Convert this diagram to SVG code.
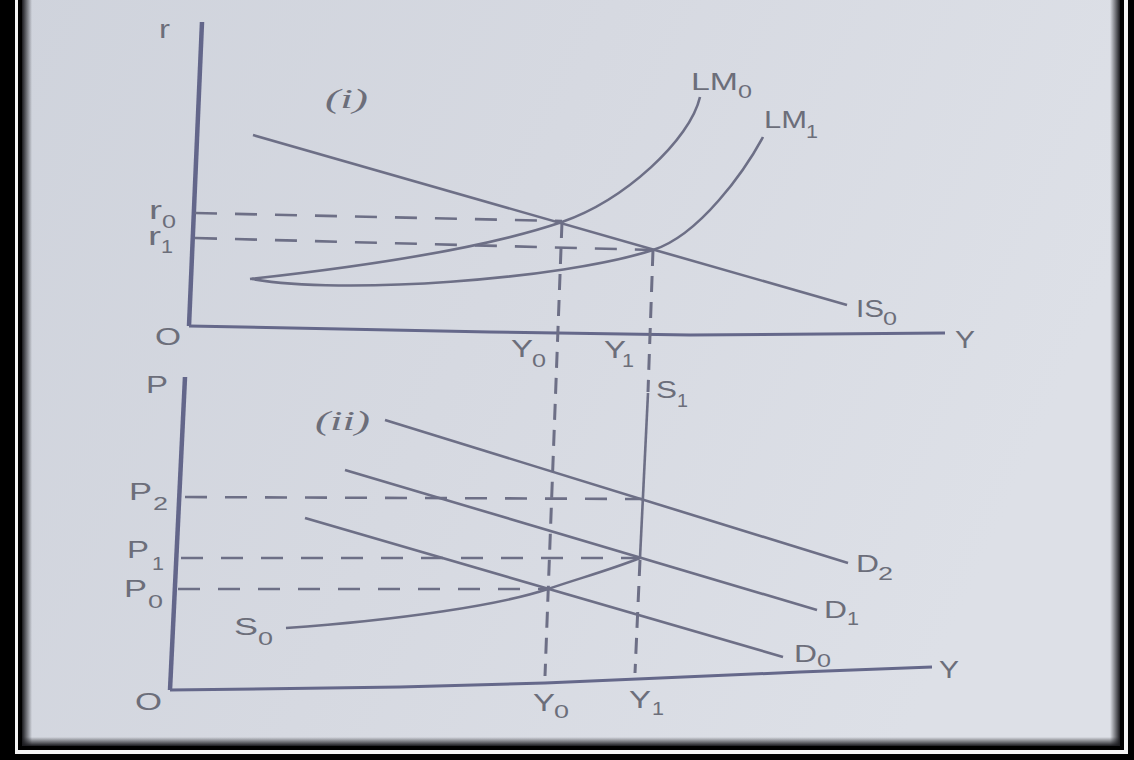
<svg xmlns="http://www.w3.org/2000/svg" width="1134" height="760" viewBox="0 0 1134 760">
<defs>
<linearGradient id="page" x1="0" y1="0" x2="1" y2="0.3">
<stop offset="0" stop-color="#cfd3dc"/>
<stop offset="0.5" stop-color="#d6d9e1"/>
<stop offset="1" stop-color="#dde0e7"/>
</linearGradient>
<linearGradient id="shL" x1="0" y1="0" x2="1" y2="0"><stop offset="0" stop-color="#1a1a1e"/><stop offset="1" stop-color="#1a1a1e" stop-opacity="0"/></linearGradient>
<linearGradient id="shR" x1="1" y1="0" x2="0" y2="0"><stop offset="0" stop-color="#1a1a1e"/><stop offset="1" stop-color="#1a1a1e" stop-opacity="0"/></linearGradient>
<linearGradient id="shB" x1="0" y1="1" x2="0" y2="0"><stop offset="0" stop-color="#1a1a1e"/><stop offset="1" stop-color="#1a1a1e" stop-opacity="0"/></linearGradient>
<style>
.ax{stroke:#63668a;stroke-width:4.5;fill:none;stroke-linecap:butt}
.hx{stroke:#65688a;stroke-width:3;fill:none}
.cv{stroke:#6d6f86;stroke-width:2.6;fill:none}
.dh{stroke:#6d6f86;stroke-width:2.6;fill:none;stroke-dasharray:22 18}
.dv{stroke:#6d6f86;stroke-width:3;fill:none;stroke-dasharray:16 10}
.t{font-family:"Liberation Sans",Arial,sans-serif;font-size:23px;fill:#6c6e7a}
.s{font-family:"Liberation Sans",Arial,sans-serif;font-size:19px;fill:#6c6e7a}
.it{font-family:"Liberation Serif","Times New Roman",serif;font-style:italic;font-size:27px;fill:#6c6e7a}
</style>
</defs>
<rect x="0" y="0" width="1134" height="760" fill="url(#page)"/>

<g id="axes">
<path class="ax" d="M202,22 L189,326"/>
<path class="hx" d="M189,326 L490,332 L690,335 L945,333"/>
<path class="ax" d="M185,377 L170,690"/>
<path class="hx" d="M170,690 L400,687 L545,683 L800,672 L932,667"/>
</g>

<g id="guides">
<path class="dh" d="M195,213 L562,221"/>
<path class="dh" d="M195,238 L653,250"/>
<path class="dv" d="M562,222 L545,676"/>
<path class="dv" d="M653,250 L648,392"/>
<path class="dh" d="M185,497 L642,499"/>
<path class="dh" d="M181,558 L640,558"/>
<path class="dh" d="M178,589 L548,589"/>
<path class="dv" d="M640,560 L635,673"/>
</g>

<g id="curves">
<path id="IS0" class="cv" d="M253,135 L847,305"/>
<path id="LM0" class="cv" d="M250,279 C350,268 480,250 562,222 C625,200 690,140 700,97"/>
<path id="LM1" class="cv" d="M252,279 C340,295 560,280 653,250 C700,235 745,170 763,137"/>
<path id="D2" class="cv" d="M385,420 L848,563"/>
<path id="D1" class="cv" d="M345,470 L817,610"/>
<path id="D0" class="cv" d="M305,518 L783,657"/>
<path id="S0" class="cv" d="M286,628 C400,620 500,605 548,589 C580,578 610,570 640,558"/>
<path id="S1" class="cv" d="M648,393 L640,558"/>
</g>

<g id="labels">
<text class="t" x="159" y="38" style="font-size:25px" textLength="11" lengthAdjust="spacingAndGlyphs">r</text>
<text class="t" x="155" y="345" textLength="26" lengthAdjust="spacingAndGlyphs">O</text>
<text class="t" x="955" y="348" textLength="20" lengthAdjust="spacingAndGlyphs">Y</text>
<text class="it" x="325" y="108" textLength="43" lengthAdjust="spacingAndGlyphs">(i)</text>
<text class="t" x="149" y="219" style="font-size:25px" textLength="13" lengthAdjust="spacingAndGlyphs">r</text><text class="s" x="162" y="228" textLength="14" lengthAdjust="spacingAndGlyphs">0</text>
<text class="t" x="148" y="245" style="font-size:25px" textLength="13" lengthAdjust="spacingAndGlyphs">r</text><text class="s" x="161" y="253" textLength="12" lengthAdjust="spacingAndGlyphs">1</text>
<text class="t" x="856" y="317" textLength="28" lengthAdjust="spacingAndGlyphs">IS</text><text class="s" x="883" y="325" textLength="14" lengthAdjust="spacingAndGlyphs">0</text>
<text class="t" x="691" y="90" textLength="47" lengthAdjust="spacingAndGlyphs">LM</text><text class="s" x="738" y="98" textLength="14" lengthAdjust="spacingAndGlyphs">0</text>
<text class="t" x="764" y="128" textLength="43" lengthAdjust="spacingAndGlyphs">LM</text><text class="s" x="806" y="138" textLength="12" lengthAdjust="spacingAndGlyphs">1</text>
<text class="t" x="511" y="357" textLength="22" lengthAdjust="spacingAndGlyphs">Y</text><text class="s" x="532" y="367" textLength="14" lengthAdjust="spacingAndGlyphs">0</text>
<text class="t" x="604" y="358" textLength="22" lengthAdjust="spacingAndGlyphs">Y</text><text class="s" x="622" y="367" textLength="12" lengthAdjust="spacingAndGlyphs">1</text>

<text class="t" x="146" y="393" textLength="22" lengthAdjust="spacingAndGlyphs">P</text>
<text class="t" x="135" y="710" textLength="27" lengthAdjust="spacingAndGlyphs">O</text>
<text class="t" x="939" y="678" textLength="20" lengthAdjust="spacingAndGlyphs">Y</text>
<text class="it" x="315" y="430" textLength="55" lengthAdjust="spacingAndGlyphs">(ii)</text>
<text class="t" x="129" y="500" textLength="23" lengthAdjust="spacingAndGlyphs">P</text><text class="s" x="153" y="510" textLength="15" lengthAdjust="spacingAndGlyphs">2</text>
<text class="t" x="127" y="558" textLength="22" lengthAdjust="spacingAndGlyphs">P</text><text class="s" x="152" y="570" textLength="12" lengthAdjust="spacingAndGlyphs">1</text>
<text class="t" x="124" y="597" textLength="23" lengthAdjust="spacingAndGlyphs">P</text><text class="s" x="148" y="608" textLength="15" lengthAdjust="spacingAndGlyphs">0</text>
<text class="t" x="856" y="572" textLength="23" lengthAdjust="spacingAndGlyphs">D</text><text class="s" x="878" y="580" textLength="15" lengthAdjust="spacingAndGlyphs">2</text>
<text class="t" x="824" y="618" textLength="23" lengthAdjust="spacingAndGlyphs">D</text><text class="s" x="847" y="625" textLength="12" lengthAdjust="spacingAndGlyphs">1</text>
<text class="t" x="794" y="662" textLength="23" lengthAdjust="spacingAndGlyphs">D</text><text class="s" x="817" y="667" textLength="14" lengthAdjust="spacingAndGlyphs">0</text>
<text class="t" x="234" y="635" textLength="24" lengthAdjust="spacingAndGlyphs">S</text><text class="s" x="258" y="645" textLength="15" lengthAdjust="spacingAndGlyphs">0</text>
<text class="t" x="656" y="398" textLength="21" lengthAdjust="spacingAndGlyphs">S</text><text class="s" x="677" y="407" textLength="11" lengthAdjust="spacingAndGlyphs">1</text>
<text class="t" x="533" y="711" textLength="22" lengthAdjust="spacingAndGlyphs">Y</text><text class="s" x="554" y="718" textLength="15" lengthAdjust="spacingAndGlyphs">0</text>
<text class="t" x="629" y="708" textLength="22" lengthAdjust="spacingAndGlyphs">Y</text><text class="s" x="652" y="715" textLength="12" lengthAdjust="spacingAndGlyphs">1</text>
</g>

<g id="frame">
<rect x="22" y="0" width="10" height="746" fill="url(#shL)"/>
<rect x="1110" y="0" width="10" height="746" fill="url(#shR)"/>
<rect x="22" y="737" width="1098" height="9" fill="url(#shB)"/>
<rect x="0" y="0" width="15" height="760" fill="#000"/>
<rect x="15" y="0" width="3" height="754" fill="#f4f4f4"/>
<rect x="18" y="0" width="4" height="750" fill="#000"/>
<rect x="1128" y="0" width="6" height="760" fill="#000"/>
<rect x="1124" y="0" width="4" height="754" fill="#f4f4f4"/>
<rect x="1120" y="0" width="4" height="750" fill="#000"/>
<rect x="0" y="754" width="1134" height="6" fill="#000"/>
<rect x="15" y="750" width="1113" height="4" fill="#f4f4f4"/>
<rect x="18" y="746" width="1106" height="4" fill="#000"/>
</g>
</svg>
